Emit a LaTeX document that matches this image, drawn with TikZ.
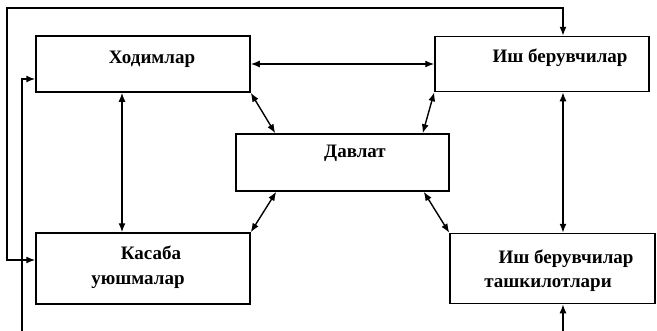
\documentclass[tikz,border=0pt]{standalone}
\usepackage{fontspec}
\setmainfont{Liberation Serif}
\usetikzlibrary{arrows.meta,calc}

\tikzset{
  box/.style={draw, line width=1.5pt, inner sep=0pt},
  lbl/.style={font=\fontsize{19}{21}\selectfont\bfseries, anchor=base, inner sep=0pt},
  link/.style={line width=1.4pt, {Latex[length=9pt,width=7pt]}-{Latex[length=9pt,width=7pt]}},
}

\begin{document}
\begin{tikzpicture}[x=1pt,y=-1pt]
  \useasboundingbox (0,0) rectangle (657,330);
  \clip (0,0) rectangle (657,330);

  % boxes
  \node[box, minimum width=214pt, minimum height=56pt] (xod)  at (143,64)    {};
  \node[box, minimum width=214pt, minimum height=55pt] (ish)  at (542,64)    {};
  \node[box, minimum width=213pt, minimum height=57pt] (dav)  at (342.5,162.5) {};
  \node[box, minimum width=214pt, minimum height=71pt] (kas)  at (143,268.5) {};
  \node[box, minimum width=205pt, minimum height=70pt] (tash) at (552.5,268.5) {};

  % labels
  \node[lbl] (t1) at (152,63)  {Ходимлар};
  \node[lbl] (t2) at (560,62)  {Иш берувчилар};
  \node[lbl] (t3) at (355,157) {Давлат};
  \node[lbl] (t4) at (151,259) {Касаба};
  \node[lbl] (t5) at (138,284) {уюшмалар};
  \node[lbl] (t6) at (566,263) {Иш берувчилар};
  \node[lbl] (t7) at (548,287) {ташкилотлари};

  % routing points
  \coordinate (vl) at (122,0);
  \coordinate (vr) at (563,0);
  \coordinate (top) at (0,8);
  \coordinate (outer) at (7,0);
  \coordinate (inner) at (22,0);
  \coordinate (bot) at (0,338);
  \coordinate (kasin) at (0,260);
  \coordinate (xodin) at (0,79);

  % direct links
  \draw[link] (xod.east) -- (ish.west);
  \draw[link] (xod.south -| vl) -- (kas.north -| vl);
  \draw[link] (ish.south -| vr) -- (tash.north -| vr);
  \draw[link] (xod.south east) -- ($(dav.north west)+(40,0)$);
  \draw[link] (ish.south west) -- ($(dav.north east)+(-27,0)$);
  \draw[link] ($(dav.south west)+(41,0)$) -- (kas.north east);
  \draw[link] ($(dav.south east)+(-26,0)$) -- (tash.north west);

  % outer loops
  \draw[link] (ish.north -| vr) -- (vr |- top) -- (outer |- top)
              -- (outer |- kasin) -- (kas.west |- kasin);
  \draw[link] (tash.south -| vr) -- (vr |- bot) -- (inner |- bot)
              -- (inner |- xodin) -- (xod.west |- xodin);
\end{tikzpicture}
\end{document}
